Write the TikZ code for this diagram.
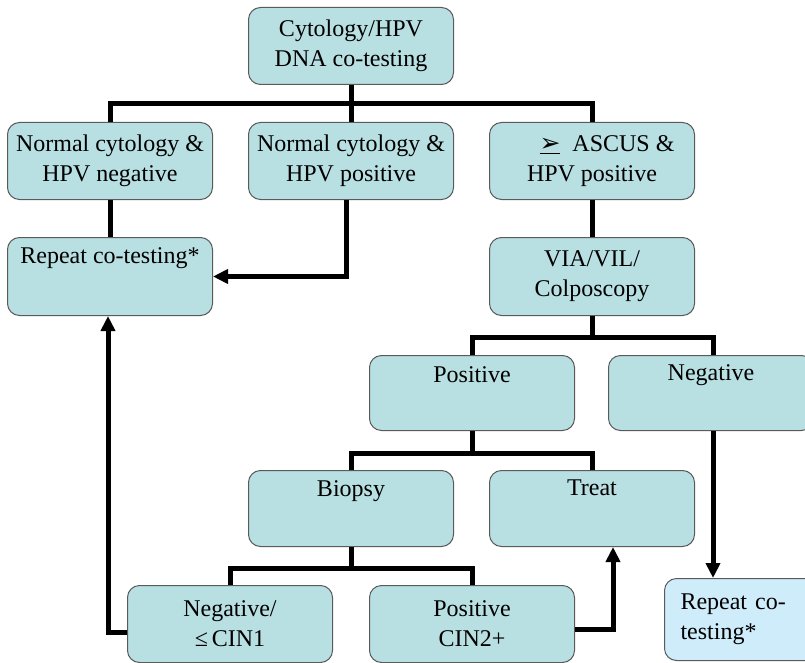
\documentclass[tikz,border=0pt]{standalone}
\usepackage{fontspec}
\setmainfont{Liberation Serif}
\newfontfamily\symfont{DejaVu Sans}
\usetikzlibrary{arrows.meta}
\definecolor{boxfill}{RGB}{184,223,226}
\definecolor{lightfill}{RGB}{206,236,250}
\definecolor{boxline}{RGB}{90,90,90}
\begin{document}
\begin{tikzpicture}[x=1pt,y=-1pt,
  box/.style={draw=boxline, fill=boxfill, rounded corners=12pt, line width=1pt,
    minimum width=205pt, minimum height=77pt, anchor=north west, inner sep=0pt,
    align=center, font=\fontsize{24}{30}\selectfont},
  lbl/.style={inner sep=0pt, font=\fontsize{24}{30}\selectfont},
  conn/.style={draw=black, line width=5pt, line join=miter},
  arr/.style={conn, -{Triangle[length=15pt,width=14pt]}}]
\useasboundingbox (0,0) rectangle (805,663);

% boxes
\node[box] (top) at (248,7) {Cytology/HPV\\DNA co-testing};
\node[box] (n1) at (7,122) {Normal cytology \&\\HPV negative};
\node[box] (n2) at (248,122) {Normal cytology \&\\HPV positive};
\node[box] (n3) at (489,122) {\hspace*{30pt}\underline{{\symfont\fontsize{25}{25}\selectfont ➢}}\ \ ASCUS \&\\HPV positive};
\node[box, minimum height=78pt] (rep) at (7,237) {};
\node[lbl] (repT) at ([yshift=-21pt]rep.north) {Repeat co-testing*};
\node[box, minimum height=78pt] (via) at (489,237) {VIA/VIL/\\Colposcopy};
\node[box, minimum height=75pt] (pos) at (369,355) {};
\node[lbl] (posT) at ([yshift=-20pt]pos.north) {Positive};
\node[box, minimum height=75pt] (neg) at (608,355) {};
\node[lbl] (negT) at ([yshift=-20pt]neg.north) {Negative};
\node[box, minimum height=76pt] (bio) at (248,470) {};
\node[lbl] (bioT) at ([yshift=-21pt]bio.north) {Biopsy};
\node[box, minimum height=76pt] (trt) at (489,470) {};
\node[lbl] (trtT) at ([yshift=-18pt]trt.north) {Treat};
\node[box, minimum height=77pt] (ncin) at (127,585) {Negative/\\≤\,CIN1};
\node[box, minimum height=77pt] (pcin) at (369,585) {Positive\\CIN2+};
\node[box, fill=lightfill, minimum width=160pt, minimum height=82pt,
  text width=128pt, inner xsep=16pt, align=left] (rep2) at (664,578) {Repeat co-\\testing*};

% junction points of the branching lines, straight below each parent
\coordinate (j1) at ([yshift=-19pt]top.south);
\coordinate (j2) at ([yshift=-21pt]via.south);
\coordinate (j3) at ([yshift=-22pt]pos.south);
\coordinate (j4) at ([yshift=-21pt]bio.south);

% connectors
\draw[conn] (top.south) -- (j1);
\draw[conn] (n1.north) |- (j1) -| (n3.north);
\draw[conn] (j1) -- (n2.north);
\draw[conn] (n1.south) -- (rep.north);
\draw[arr] ([xshift=-5pt]n2.south) |- (rep.east);
\draw[conn] (n3.south) -- (via.north);
\draw[conn] (via.south) -- (j2);
\draw[conn] (pos.north) |- (j2) -| ([xshift=2pt]neg.north);
\draw[conn] (pos.south) -- (j3);
\draw[conn] (bio.north) |- (j3) -| (trt.north);
\draw[conn] (bio.south) -- (j4);
\draw[conn] (ncin.north) |- (j4) -| (pcin.north);
\draw[arr] ([yshift=-8pt]ncin.west) -| ([xshift=-2pt]rep.south);
\draw[arr] ([yshift=-5pt]pcin.east) -| ([xshift=21pt]trt.south);
\draw[arr] ([xshift=2pt]neg.south) -- ([xshift=2pt]neg.south |- rep2.north);
\end{tikzpicture}
\end{document}
